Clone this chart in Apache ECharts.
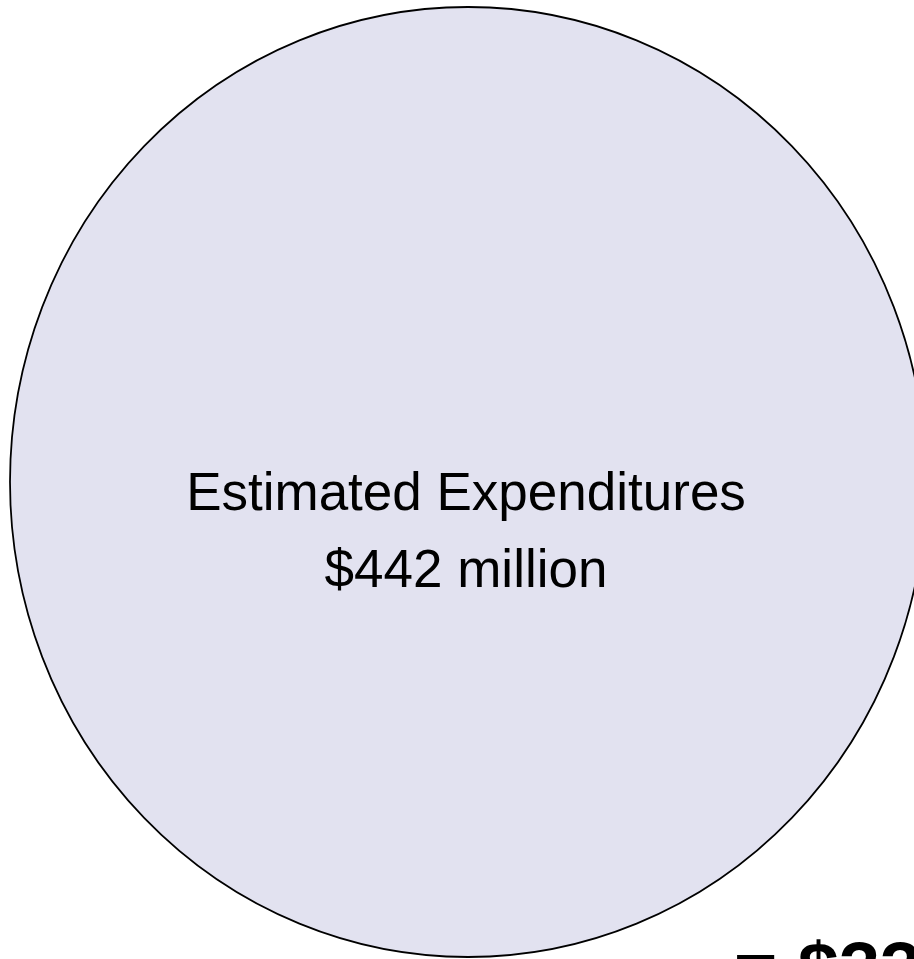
<!DOCTYPE html>
<html>
<head>
<meta charset="utf-8">
<style>
  html, body { margin: 0; padding: 0; background: #ffffff; }
  #chart { width: 914px; height: 959px; }
</style>
<script src="https://cdn.jsdelivr.net/npm/echarts@6/dist/echarts.min.js"></script>
</head>
<body>
<div id="chart"></div>
<script>
// Budget bubble: one category, its value in millions of dollars
const categories = ['Estimated Expenditures'];
const valuesMillions = [442];
const resultLabel = '= $33';

const chart = echarts.init(document.getElementById('chart'), null, { renderer: 'canvas' });

const data = categories.map((name, i) => ({
  name: name,
  value: [0, 0, valuesMillions[i]]
}));

chart.setOption({
  animation: false,
  backgroundColor: '#ffffff',
  grid: { left: 0, right: 0, top: 0, bottom: 0 },
  xAxis: { type: 'value', min: -468, max: 446, show: false },
  yAxis: { type: 'value', min: -477, max: 482, show: false },
  series: [{
    type: 'scatter',
    symbol: 'circle',
    symbolSize: [916, 950],
    data: data,
    itemStyle: {
      color: '#e2e2f0',
      borderColor: '#000000',
      borderWidth: 1.8,
      opacity: 1
    },
    label: {
      show: true,
      position: 'inside',
      offset: [-2, 52],
      formatter: p => p.name + '\n$' + p.value[2] + ' million',
      color: '#000000',
      fontFamily: 'Liberation Sans, Arial, sans-serif',
      fontSize: 53,
      lineHeight: 77,
      align: 'center'
    },
    emphasis: { disabled: true }
  }],
  graphic: [{
    type: 'text',
    left: 734,
    top: 937,
    style: {
      text: resultLabel + ' million',
      fill: '#000000',
      font: 'bold 74px "Liberation Sans", Arial, sans-serif'
    }
  }]
});
</script>
</body>
</html>
